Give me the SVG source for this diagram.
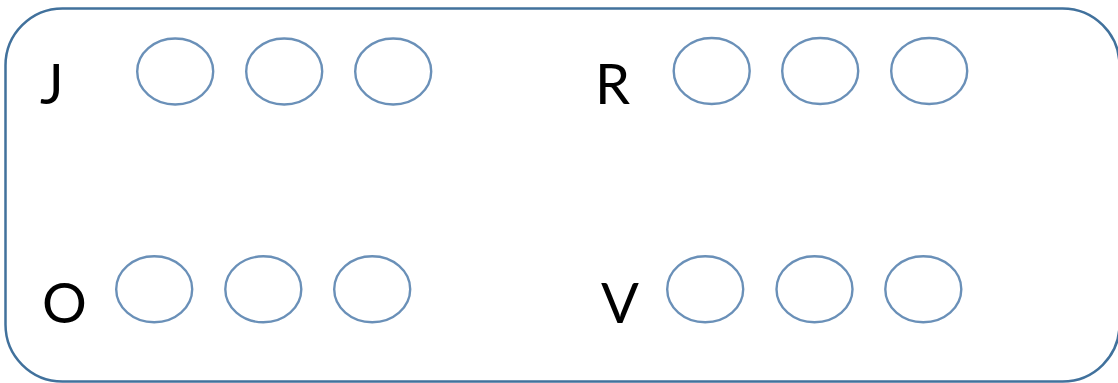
<svg xmlns="http://www.w3.org/2000/svg" width="1118" height="383" viewBox="0 0 1118 383">
<style>
.frame{fill:none;stroke:#41719c;stroke-width:2.5}
.dot{fill:none;stroke:#6a90b8;stroke-width:2.4}
.lbl{font-family:Lato,"Open Sans","Liberation Sans",sans-serif;font-size:56px;fill:#000}
</style>
<rect width="1118" height="383" fill="#fff"/>
<rect class="frame" x="5.5" y="8.5" width="1114" height="373" rx="57" ry="57"/>
<g id="group-J">
<text class="lbl" x="40" y="104">J</text>
<ellipse class="dot" cx="175.2" cy="71.5" rx="38" ry="33"/>
<ellipse class="dot" cx="284.2" cy="71.5" rx="38" ry="33"/>
<ellipse class="dot" cx="393.2" cy="71.5" rx="38" ry="33"/>
</g>
<g id="group-R">
<text class="lbl" x="595" y="104">R</text>
<ellipse class="dot" cx="711.7" cy="71" rx="38" ry="33"/>
<ellipse class="dot" cx="820.2" cy="71" rx="38" ry="33"/>
<ellipse class="dot" cx="929.2" cy="71" rx="38" ry="33"/>
</g>
<g id="group-O">
<text class="lbl" x="42" y="323">O</text>
<ellipse class="dot" cx="154.2" cy="289.3" rx="38" ry="33"/>
<ellipse class="dot" cx="263.3" cy="289.3" rx="38" ry="33"/>
<ellipse class="dot" cx="372.2" cy="289.3" rx="38" ry="33"/>
</g>
<g id="group-V">
<text class="lbl" x="601" y="323">V</text>
<ellipse class="dot" cx="705.2" cy="289.3" rx="38" ry="33"/>
<ellipse class="dot" cx="814.5" cy="289.3" rx="38" ry="33"/>
<ellipse class="dot" cx="923.3" cy="289.3" rx="38" ry="33"/>
</g>
<g id="connectors"></g>
</svg>
